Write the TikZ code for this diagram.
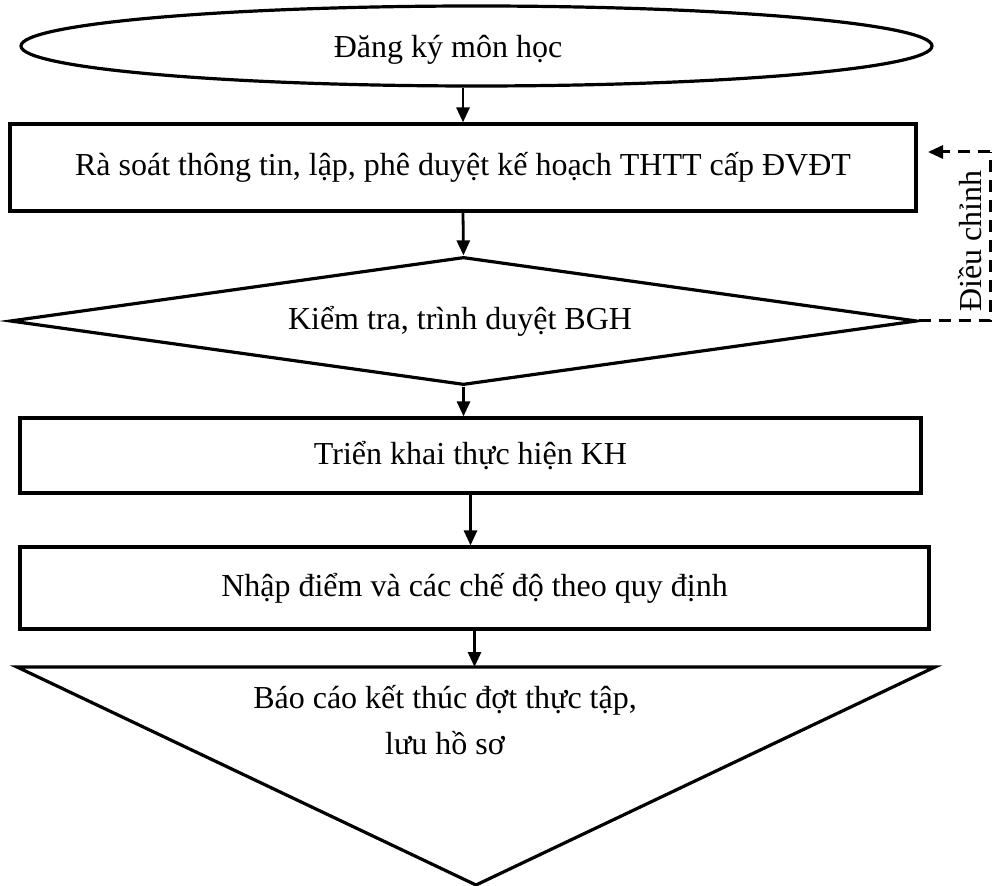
\documentclass[tikz,border=0pt]{standalone}
\usepackage{fontspec}
\setmainfont{Liberation Serif}
\usetikzlibrary{shapes.geometric,arrows.meta}
\begin{document}
\begin{tikzpicture}[x=0.5pt,y=-0.5pt,
  box/.style={draw,line width=1.6pt,inner sep=0pt},
  arr/.style={line width=1.4pt,-{Triangle[length=7.5pt,width=6.5pt]}},
  fb/.style={line width=1.5pt,dash pattern=on 6pt off 4pt},
  txt/.style={font=\fontsize{16}{21}\selectfont,inner sep=0pt}]
\useasboundingbox (0,0) rectangle (995,886);
\node[box,ellipse,minimum width=455.5pt,minimum height=40pt] (e) at (476.5,46) {};
\node[txt] (et) at (448,50) {Đăng ký môn học};
\node[box,rectangle,minimum width=453pt,minimum height=43.5pt,txt] (r1) at (463,167.5) {Rà soát thông tin, lập, phê duyệt kế hoạch THTT cấp ĐVĐT};
\node[box,diamond,minimum width=453.5pt,minimum height=64pt,txt] (d) at (463.5,321) {};
\node[txt] (dt) at (460,321) {Kiểm tra, trình duyệt BGH};
\node[box,rectangle,minimum width=450.5pt,minimum height=37.5pt,txt] (r2) at (470.5,455.5) {Triển khai thực hiện KH};
\node[box,rectangle,minimum width=454.5pt,minimum height=41pt,txt] (r3) at (474.5,588) {Nhập điểm và các chế độ theo quy định};
\coordinate (tl) at (17,667);
\coordinate (tr) at (935,667);
\coordinate (tb) at (476,885);
\draw[line width=1.6pt,line join=miter] (tl) -- (tr) -- (tb) -- cycle;
\coordinate (ttop) at (474.5,667);
\node[txt,align=center] (tt) at (445,720) {Báo cáo kết thúc đợt thực tập,\\[2pt] lưu hồ sơ};
\draw[arr] (r1.north |- e.south) -- (r1.north);
\draw[arr] (r1.south) -- (d.north);
\draw[arr] (d.south) -- (d.south |- r2.north);
\draw[arr] (r2.south) -- (r2.south |- r3.north);
\draw[arr] (r3.south) -- (ttop);
\coordinate (fb1) at (990,321);
\coordinate (fb2) at (990,152);
\coordinate (fb3) at (928,152);
\draw[fb] (d.east) -- (fb1) -- (fb2);
\draw[fb,-{Triangle[length=7.5pt,width=6.5pt]}] (fb2) -- (fb3);
\node[txt,rotate=90] (lbl) at (970,241) {Điều chỉnh};
\end{tikzpicture}
\end{document}
